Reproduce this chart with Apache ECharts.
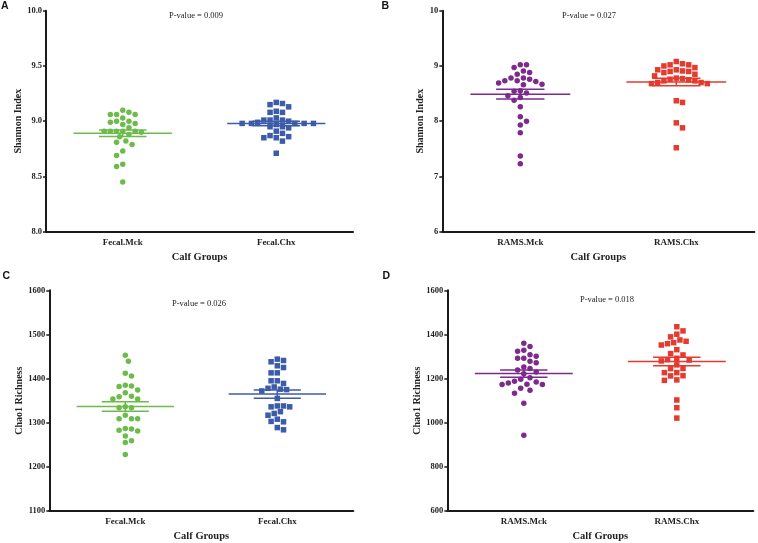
<!DOCTYPE html>
<html>
<head>
<meta charset="utf-8">
<script src="https://cdn.jsdelivr.net/npm/echarts@6/dist/echarts.min.js"></script>
<style>
  html,body{margin:0;padding:0;background:#fff;}
  #chart{width:758px;height:543px;}
</style>
</head>
<body>
<div id="chart"></div>
<script>
// categories
const fecalGroups = ['Fecal.Mck', 'Fecal.Chx']
const ramsGroups = ['RAMS.Mck', 'RAMS.Chx']
const panelLetters = ['A', 'B', 'C', 'D']
const pValues = ['P-value = 0.009', 'P-value = 0.027', 'P-value = 0.026', 'P-value = 0.018']

// Shannon index per calf
const shannonFecalMck = [9.10, 9.08, 9.06, 9.06, 9.06, 9.03, 9.00, 9.00, 8.99, 8.98, 8.97, 8.94, 8.91, 8.91, 8.91, 8.91, 8.91, 8.90, 8.88, 8.86, 8.82, 8.81, 8.79, 8.73, 8.69, 8.61, 8.59, 8.45]
const shannonFecalChx = [9.17, 9.16, 9.15, 9.13, 9.09, 9.08, 9.08, 9.03, 9.01, 9.01, 9.01, 9.00, 8.99, 8.98, 8.98, 8.98, 8.98, 8.98, 8.97, 8.95, 8.95, 8.94, 8.91, 8.89, 8.87, 8.86, 8.85, 8.85, 8.82, 8.71]
const shannonRamsMck = [9.02, 9.02, 8.97, 8.91, 8.88, 8.85, 8.78, 8.78, 8.76, 8.73, 8.73, 8.72, 8.69, 8.67, 8.66, 8.55, 8.54, 8.51, 8.46, 8.43, 8.38, 8.26, 8.08, 8.00, 7.93, 7.79, 7.37, 7.23]
const shannonRamsChx = [9.08, 9.04, 9.02, 9.02, 9.00, 8.97, 8.93, 8.93, 8.91, 8.90, 8.90, 8.88, 8.85, 8.82, 8.78, 8.77, 8.76, 8.75, 8.73, 8.73, 8.70, 8.70, 8.68, 8.68, 8.37, 8.34, 7.97, 7.88, 7.52]

// Chao1 richness per calf
const chaoFecalMck = [1453, 1439, 1412, 1406, 1385, 1383, 1382, 1374, 1368, 1360, 1359, 1354, 1354, 1336, 1334, 1334, 1317, 1309, 1309, 1309, 1287, 1286, 1283, 1281, 1270, 1259, 1255, 1228]
const chaoFecalChx = [1444, 1441, 1438, 1429, 1425, 1413, 1413, 1395, 1395, 1389, 1381, 1378, 1376, 1375, 1372, 1355, 1338, 1338, 1336, 1336, 1325, 1321, 1317, 1308, 1303, 1302, 1289, 1284]
const chaoRamsMck = [1360, 1345, 1328, 1324, 1308, 1301, 1292, 1292, 1278, 1272, 1253, 1246, 1239, 1230, 1222, 1204, 1197, 1188, 1185, 1180, 1174, 1173, 1173, 1156, 1147, 1133, 1088, 943]
const chaoRamsChx = [1435, 1416, 1401, 1389, 1375, 1369, 1363, 1358, 1352, 1331, 1313, 1307, 1292, 1286, 1284, 1280, 1262, 1246, 1245, 1227, 1227, 1213, 1212, 1194, 1192, 1103, 1068, 1021]

const GREEN = '#6dbb4b', BLUE = '#3c5ba9', PURPLE = '#7d2a8c', RED = '#e53a2e'
const SERIF = '"Liberation Serif", "DejaVu Serif", serif'

const panels = [
  {grid:{left:46, top:10.7, width:307, height:221}, cats:fecalGroups, groups:[shannonFecalMck, shannonFecalChx],
   colors:[GREEN, BLUE], min:8, max:10, interval:0.5, digits:1, name:'Shannon Index', nameGap:18},
  {grid:{left:442.3, top:10.7, width:312, height:221}, cats:ramsGroups, groups:[shannonRamsMck, shannonRamsChx],
   colors:[PURPLE, RED], min:6, max:10, interval:1, digits:0, name:'Shannon Index', nameGap:13},
  {grid:{left:49.3, top:290.3, width:304, height:220.7}, cats:fecalGroups, groups:[chaoFecalMck, chaoFecalChx],
   colors:[GREEN, BLUE], min:1100, max:1600, interval:100, digits:0, name:'Chao1 Richness', nameGap:21},
  {grid:{left:447.3, top:290.3, width:306, height:220.7}, cats:ramsGroups, groups:[chaoRamsMck, chaoRamsChx],
   colors:[PURPLE, RED], min:600, max:1600, interval:200, digits:0, name:'Chao1 Richness', nameGap:19}
]

// place dots side by side so none overlap (dot-plot swarm)
function swarmOffsets(values, pxPerUnit, dist, step){
  const order = values.map((v,i)=>i).sort((a,b)=>values[b]-values[a])
  const off = new Array(values.length).fill(0)
  const placed = []
  order.forEach((k,n)=>{
    const y = values[k]*pxPerUnit
    const free = x => placed.every(q=>(q[0]-x)*(q[0]-x)+(q[1]-y)*(q[1]-y) >= dist*dist)
    let x = 0
    for(let j=0; j<40; j++){
      const cands = j===0 ? [0] : (n%2 ? [j*step, -j*step] : [-j*step, j*step])
      const hit = cands.find(free)
      if(hit !== undefined){ x = hit; break }
    }
    off[k] = x
    placed.push([x, y])
  })
  return off
}

function meanSem(values){
  const n = values.length
  const m = values.reduce((s,v)=>s+v,0)/n
  const sd = Math.sqrt(values.reduce((s,v)=>s+(v-m)*(v-m),0)/(n-1))
  return [m, sd/Math.sqrt(n)]
}

const grids = [], xAxes = [], yAxes = [], series = [], graphics = []
const axisColor = '#1a1a1a'

panels.forEach((p,i)=>{
  grids.push(p.grid)
  xAxes.push({
    gridIndex:i, type:'category', data:p.cats, boundaryGap:true,
    name:'Calf Groups', nameLocation:'middle', nameGap:20,
    nameTextStyle:{fontFamily:SERIF, fontWeight:'bold', fontSize:10.5, color:'#222'},
    axisLine:{onZero:false, lineStyle:{color:axisColor, width:2}},
    axisTick:{alignWithLabel:true, length:3, lineStyle:{color:axisColor, width:1.5}},
    axisLabel:{margin:6, fontFamily:SERIF, fontWeight:'bold', fontSize:9, color:'#222'},
    splitLine:{show:false}
  })
  yAxes.push({
    gridIndex:i, type:'value', min:p.min, max:p.max, interval:p.interval,
    name:p.name, nameLocation:'middle', nameGap:p.nameGap, nameRotate:90,
    nameTextStyle:{fontFamily:SERIF, fontWeight:'bold', fontSize:10, color:'#222'},
    axisLine:{show:true, lineStyle:{color:axisColor, width:2}},
    axisTick:{show:true, length:3, lineStyle:{color:axisColor, width:1.5}},
    axisLabel:{margin:4, fontFamily:SERIF, fontWeight:'bold', fontSize:8.5, color:'#222',
      formatter:v=>v.toFixed(p.digits)},
    splitLine:{show:false}
  })

  const pxPerUnit = p.grid.height/(p.max-p.min)
  const stats = []
  p.groups.forEach((vals,g)=>{
    const off = swarmOffsets(vals, pxPerUnit, 6.2, 3.1)
    series.push({
      type:'scatter', xAxisIndex:i, yAxisIndex:i,
      symbol: g===0 ? 'circle' : 'rect', symbolSize:5.5,
      itemStyle:{color:p.colors[g], opacity:1},
      silent:true,
      data: vals.map((v,k)=>({value:[g, v], symbolOffset:[off[k], 0]}))
    })
    const [m, sem] = meanSem(vals)
    stats.push([g, m, m-sem, m+sem])
  })

  // mean line with SEM bars
  series.push({
    type:'custom', xAxisIndex:i, yAxisIndex:i, silent:true, z:5,
    renderItem(params, api){
      const c = api.value(0)
      const band = api.size([1,0])[0]
      const pm = api.coord([c, api.value(1)])
      const pl = api.coord([c, api.value(2)])
      const ph = api.coord([c, api.value(3)])
      const color = p.colors[params.dataIndex]
      const st = {stroke:color, lineWidth:1.5}
      const hw = band*0.32, sw = band*0.155
      return {type:'group', children:[
        {type:'line', shape:{x1:pm[0]-hw, y1:pm[1], x2:pm[0]+hw, y2:pm[1]}, style:st},
        {type:'line', shape:{x1:pl[0]-sw, y1:pl[1], x2:pl[0]+sw, y2:pl[1]}, style:st},
        {type:'line', shape:{x1:ph[0]-sw, y1:ph[1], x2:ph[0]+sw, y2:ph[1]}, style:st},
        {type:'line', shape:{x1:pl[0], y1:pl[1], x2:ph[0], y2:ph[1]}, style:st}
      ]}
    },
    data: stats
  })
})

const pPos = [[196,15.7],[589,15.7],[199,303.7],[607,299.3]]
pValues.forEach((t,i)=>{
  graphics.push({type:'text', x:pPos[i][0], y:pPos[i][1],
    style:{text:t, fill:'#222', font:'8.5px ' + SERIF, align:'center', verticalAlign:'middle'}})
})
const lPos = [[1,6.5],[381.5,6.5],[2.5,276.5],[382.5,276.5]]
panelLetters.forEach((t,i)=>{
  graphics.push({type:'text', x:lPos[i][0], y:lPos[i][1],
    style:{text:t, fill:'#111', font:'bold 10.5px "Liberation Sans", Arial, sans-serif', align:'left', verticalAlign:'middle'}})
})

const chart = echarts.init(document.getElementById('chart'), null, {renderer:'canvas'})
chart.setOption({
  animation:false,
  backgroundColor:'#fff',
  grid:grids,
  xAxis:xAxes,
  yAxis:yAxes,
  series:series,
  graphic:graphics
})
</script>
</body>
</html>
